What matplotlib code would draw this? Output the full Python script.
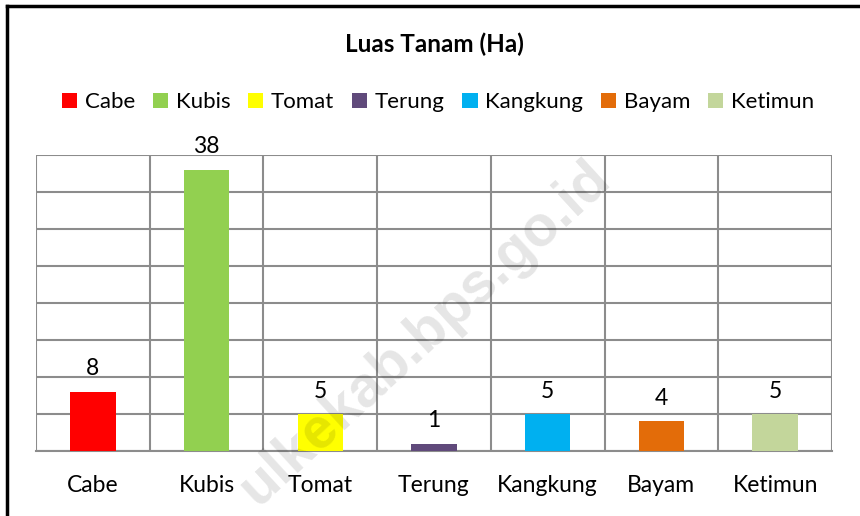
import matplotlib
matplotlib.use("Agg")
import matplotlib.pyplot as plt
from matplotlib.patches import Patch
from matplotlib.lines import Line2D

categories = ["Cabe", "Kubis", "Tomat", "Terung", "Kangkung", "Bayam", "Ketimun"]
values = [8, 38, 5, 1, 5, 4, 5]
colors = ["#FF0000", "#92D050", "#FFFF00", "#604A7B", "#00B0F0", "#E36C09", "#C3D69B"]
title = "Luas Tanam (Ha)"
watermark = "ulkekab.bps.go.id"

plt.rcParams['font.family'] = ['Lato', 'DejaVu Sans']

fig = plt.figure(figsize=(8.6, 5.16), dpi=100)
fig.patch.set_facecolor("white")

ax = fig.add_axes([36/860, 1-451/516, (832-36)/860, (451-155)/516])

x = list(range(len(categories)))
ax.bar(x, values, width=0.40, color=colors, zorder=3)
for xi, v in zip(x, values):
    ax.annotate(str(v), (xi, v), xytext=(0, 9), textcoords="offset points",
                ha="center", va="bottom", fontsize=16.5, color="black", zorder=4)

ax.set_xlim(-0.5, len(categories) - 0.5)
ax.set_ylim(0, 40)
ax.set_yticks(range(0, 41, 5))
ax.set_yticklabels([])
ax.tick_params(axis="y", length=0)
ax.set_xticks(x)
ax.set_xticklabels(categories, fontsize=16.5)
ax.tick_params(axis="x", length=0, pad=17)
ax.set_xticks([i - 0.5 for i in range(len(categories) + 1)], minor=True)
ax.tick_params(axis="x", which="minor", length=0)
ax.grid(axis="y", which="major", color="#8c8c8c", linewidth=1.5, zorder=1)
ax.grid(axis="x", which="minor", color="#8c8c8c", linewidth=1.5, zorder=1)
ax.grid(axis="x", which="major", visible=False)
for s in ["top", "right", "left"]:
    ax.spines[s].set_visible(False)
ax.spines["bottom"].set_color("#8c8c8c")
ax.spines["bottom"].set_linewidth(1.5)
ax.set_facecolor("none")

fig.text(434/860, 1-44/516, title, ha="center", va="center", fontsize=17.5, fontweight="bold")

handles = [Patch(facecolor=c, edgecolor="none") for c in colors]
fig.legend(handles, categories, loc="center", bbox_to_anchor=(438/860, 1-102/516),
           ncol=7, frameon=False, fontsize=16, handlelength=0.68, handleheight=0.68,
           handletextpad=0.35, columnspacing=0.8, borderpad=0)

fig.text(425/860, 1-333/516, watermark, ha="center", va="center", fontsize=41,
         fontweight="bold", rotation=42.5, color="black", alpha=0.1, zorder=10,
         family="Liberation Sans")

fig.add_artist(Line2D([7/860, 7/860], [0, 1-6/516], transform=fig.transFigure,
                      color="black", linewidth=2.5))
fig.add_artist(Line2D([7/860, 1], [1-6/516, 1-6/516], transform=fig.transFigure,
                      color="black", linewidth=2.5))

fig.savefig("out.png", dpi=100, facecolor="white")
